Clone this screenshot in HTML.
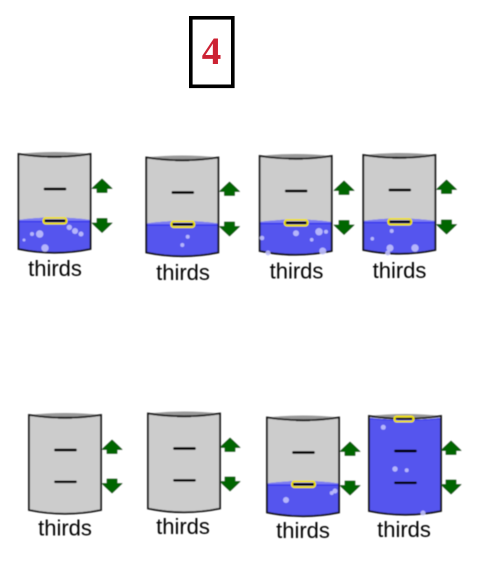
<!DOCTYPE html>
<html>
<head>
<meta charset="utf-8">
<style>
html,body{margin:0;padding:0;background:#fff;width:481px;height:565px;overflow:hidden}
svg{display:block}
text.l{font-family:"Liberation Sans",sans-serif;font-size:22px;fill:#000;text-anchor:middle}
.b{fill:#c0c0fc;opacity:.9}
</style>
</head>
<body>
<svg width="481" height="565" viewBox="0 0 481 565">
<defs>
<filter id="soft" x="-5%" y="-5%" width="110%" height="110%"><feGaussianBlur stdDeviation="0.4"/></filter>
<path id="body" d="M0,0 Q36,5.5 72,0 L72,95 Q36,102.5 0,95 Z" fill="#cccccc"/>
<g id="rim"><path d="M0,0 Q36,-4 72,0 Q36,5.5 0,0 Z" fill="#999"/><path d="M0,0 Q36,5.5 72,0 L72,95 Q36,102.5 0,95 Z" fill="none" stroke="#111" stroke-width="1.8"/><path d="M29,2.8 L43,2.8" stroke="#111" stroke-width="1.8"/></g>
<g id="water"><path d="M0,66 L0,95 Q36,102.5 72,95 L72,66 Q36,61 0,66 Z" fill="#5555ee"/><path d="M0,66 Q36,61 72,66 L72,68 Q36,66 0,68 Z" fill="#7c7cf2"/><path d="M0,67.5 L72,67.5" stroke="#3333ee" stroke-width="1.2"/></g>
<g id="marks"><path d="M26.5,35 H46.5 M26.5,66.8 H46.5" stroke="#000" stroke-width="2.7" stroke-linecap="round" fill="none"/></g>
<rect id="yellow" x="25" y="64" width="23" height="5.6" rx="2.4" fill="none" stroke="#eee000" stroke-width="2.1"/>
<g id="up"><polygon points="9.5,0 19.5,9.5 14.5,9.5 14.5,13.5 4.5,13.5 4.5,9.5 -0.5,9.5" fill="#006600" stroke="#224422" stroke-width=".6"/></g>
<g id="down"><polygon points="9.5,14 19.5,4.5 14.5,4.5 14.5,0 4.5,0 4.5,4.5 -0.5,4.5" fill="#006600" stroke="#224422" stroke-width=".6"/></g>
</defs>

<g>
<rect x="190.8" y="17.8" width="42" height="68.5" fill="#fff" stroke="#000" stroke-width="3.6"/>
<text x="211.5" y="64" font-family="'Liberation Serif',serif" font-weight="bold" font-size="39" fill="#cc2233" text-anchor="middle">4</text>
</g>

<g filter="url(#soft)">
<!-- Beaker 1 -->
<g transform="translate(18.5,154)">
<use href="#body"/><use href="#water"/><use href="#marks"/><use href="#yellow"/><use href="#rim"/>
</g>
<g>
<circle class="b" cx="39.7" cy="234" r="3.7"/><circle class="b" cx="32" cy="234" r="2"/><circle class="b" cx="24" cy="240" r="1.5"/><circle class="b" cx="45" cy="248" r="3.7"/><circle class="b" cx="69.3" cy="227.3" r="2.7"/><circle class="b" cx="75" cy="231" r="3"/><circle class="b" cx="81" cy="234" r="2.5"/>
</g>
<use href="#up" x="92.5" y="179"/>
<use href="#down" x="92.5" y="218.5"/>
<text class="l" x="55" y="276">thirds</text>

<!-- Beaker 2 -->
<g transform="translate(146.3,157.5)">
<use href="#body"/><use href="#water"/><use href="#marks"/><use href="#yellow"/><use href="#rim"/>
</g>
<g>
<circle class="b" cx="187.7" cy="236.7" r="2"/><circle class="b" cx="182.3" cy="245" r="2"/>
</g>
<use href="#up" x="220" y="182"/>
<use href="#down" x="220" y="222"/>
<text class="l" x="183" y="280">thirds</text>

<!-- Beaker 3 -->
<g transform="translate(259.7,156)">
<use href="#body"/><use href="#water"/><use href="#marks"/><use href="#yellow"/><use href="#rim"/>
</g>
<g>
<circle class="b" cx="296" cy="233.3" r="3"/><circle class="b" cx="319" cy="231.7" r="3.7"/><circle class="b" cx="326" cy="231.7" r="2"/><circle class="b" cx="311.7" cy="239.7" r="1.8"/><circle class="b" cx="262" cy="238" r="2.3"/><circle class="b" cx="322.7" cy="251" r="3.5"/><circle class="b" cx="268" cy="253" r="2.5"/>
</g>
<use href="#up" x="334.5" y="181"/>
<use href="#down" x="334.5" y="220.5"/>
<text class="l" x="296.5" y="278.5">thirds</text>

<!-- Beaker 4 -->
<g transform="translate(363.3,155)">
<use href="#body"/><use href="#water"/><use href="#marks"/><use href="#yellow"/><use href="#rim"/>
</g>
<g>
<circle class="b" cx="391.7" cy="231" r="2"/><circle class="b" cx="372.3" cy="238.7" r="1.8"/><circle class="b" cx="390" cy="248" r="3.5"/><circle class="b" cx="415" cy="248" r="3.7"/><circle class="b" cx="387.7" cy="253" r="2.5"/>
</g>
<use href="#up" x="437" y="180"/>
<use href="#down" x="437" y="220"/>
<text class="l" x="399.5" y="278">thirds</text>

<!-- Beaker 5 -->
<g transform="translate(29,415)">
<use href="#body"/><use href="#marks"/><use href="#rim"/>
</g>
<use href="#up" x="102.5" y="440"/>
<use href="#down" x="102.5" y="479"/>
<text class="l" x="65" y="535.5">thirds</text>

<!-- Beaker 6 -->
<g transform="translate(148,413.5)">
<use href="#body"/><use href="#marks"/><use href="#rim"/>
</g>
<use href="#up" x="220.5" y="438"/>
<use href="#down" x="220.5" y="477"/>
<text class="l" x="183" y="534">thirds</text>

<!-- Beaker 7 -->
<g transform="translate(267,417.5)">
<use href="#body"/><use href="#water"/><use href="#marks"/><use href="#yellow"/><use href="#rim"/>
</g>
<g>
<circle class="b" cx="286" cy="500" r="3"/><circle class="b" cx="335" cy="491" r="2.5"/><circle class="b" cx="331.7" cy="493" r="2"/>
</g>
<use href="#up" x="340.5" y="442"/>
<use href="#down" x="340.5" y="481"/>
<text class="l" x="303" y="538">thirds</text>

<!-- Beaker 8 -->
<g transform="translate(369,416)">
<use href="#body"/>
<path d="M0,2 L0,95 Q36,102.5 72,95 L72,2 Q36,6 0,2 Z M0,2 Q36,-1 72,2 Z" fill="#5555ee"/>
<path d="M0,2.6 Q36,6 72,2.6" stroke="#3333ee" stroke-width="1" fill="none"/>
<use href="#marks"/>
<use href="#rim"/>
<rect x="25.5" y="0.5" width="19" height="5" rx="2.2" fill="none" stroke="#eee000" stroke-width="2.1"/>
</g>
<g>
<circle class="b" cx="383.3" cy="427.3" r="2.5"/><circle class="b" cx="395" cy="469" r="2.7"/><circle class="b" cx="406.7" cy="470.3" r="2"/><circle class="b" cx="423" cy="513" r="2.5"/>
</g>
<use href="#up" x="441.5" y="441"/>
<use href="#down" x="441.5" y="480"/>
<text class="l" x="404" y="537">thirds</text>
</g>
</svg>
</body>
</html>
